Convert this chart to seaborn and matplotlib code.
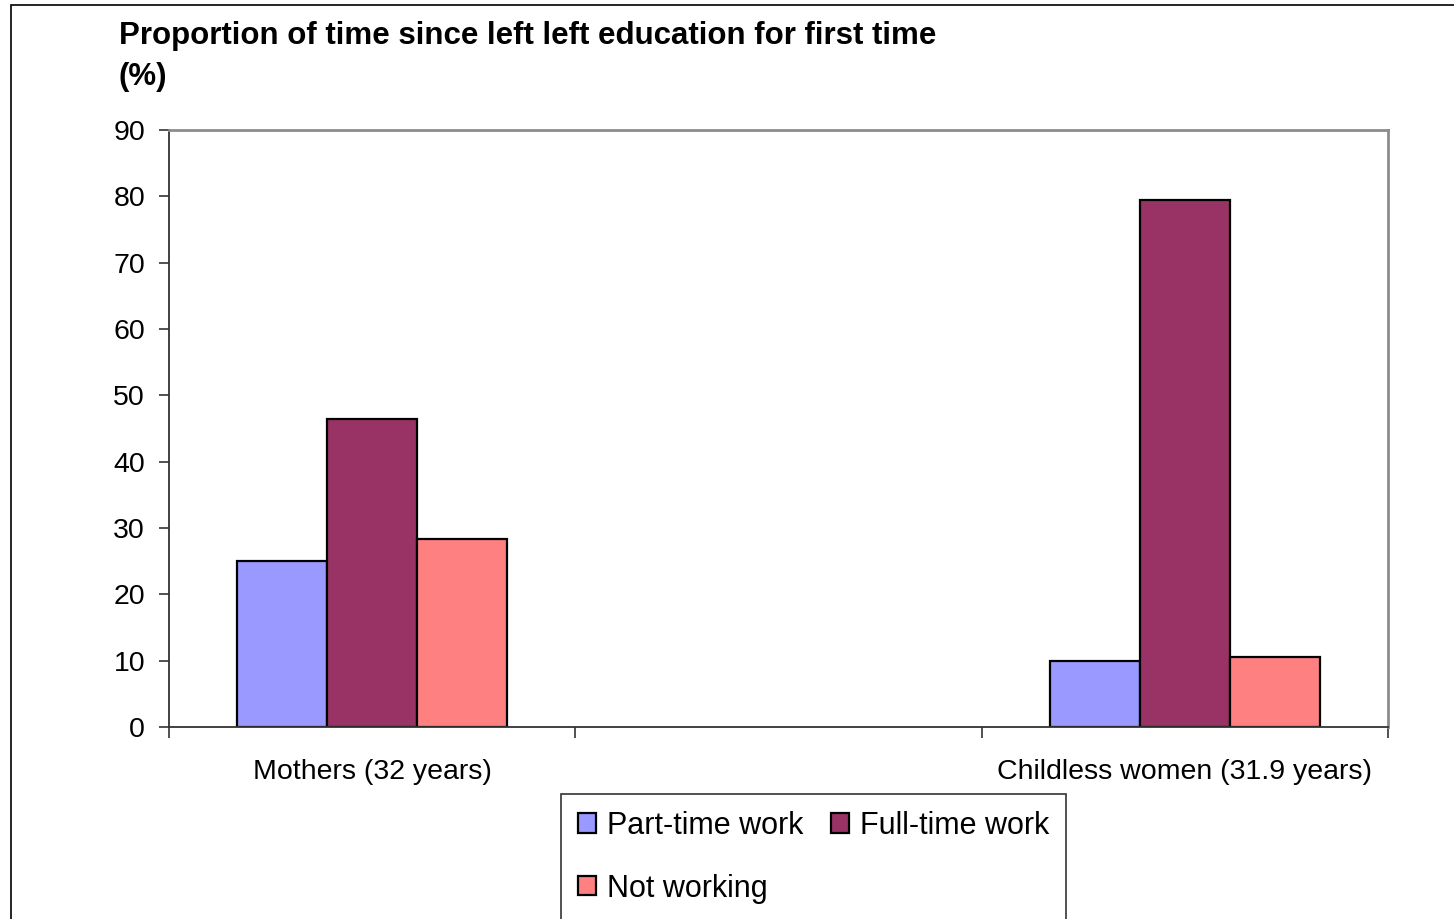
import matplotlib
matplotlib.use("Agg")
import matplotlib.pyplot as plt
import seaborn as sns
import pandas as pd
from matplotlib.patches import Rectangle
from matplotlib.ticker import FixedLocator

# Data
groups = ["Mothers (32 years)", "Childless women (31.9 years)"]
categories = ["Mothers (32 years)", "", "Childless women (31.9 years)"]
statuses = ["Part-time work", "Full-time work", "Not working"]
part_time = [25.1, 9.9]
full_time = [46.4, 79.4]
not_working = [28.3, 10.5]
colors = ["#9999FF", "#993366", "#FF8080"]
y_ticks = [0, 10, 20, 30, 40, 50, 60, 70, 80, 90]

rows = []
for status, vals in zip(statuses, [part_time, full_time, not_working]):
    for g, v in zip(groups, vals):
        rows.append({"group": g, "status": status, "value": v})
df = pd.DataFrame(rows)

sns.set_style("white")
plt.rcParams["font.family"] = ["Liberation Sans", "DejaVu Sans"]
plt.rcParams["text.color"] = "black"
plt.rcParams["xtick.color"] = "black"
plt.rcParams["ytick.color"] = "black"

W, H = 1454, 919
fig = plt.figure(figsize=(W / 100, H / 100), dpi=100)
ax = fig.add_axes([169 / W, 1 - 727 / H, (1388 - 169) / W, (727 - 130) / H])

sns.barplot(data=df, x="group", y="value", hue="status", order=categories,
            hue_order=statuses, palette=colors, width=0.665, edgecolor="black",
            linewidth=1.6, saturation=1, ax=ax, legend=True)

ax.set_xlim(-0.5, 2.5)
ax.set_ylim(0, 90)
ax.yaxis.set_major_locator(FixedLocator(y_ticks))
ax.set_xlabel("")
ax.set_ylabel("")

# Category labels without major ticks; tick marks at category boundaries
ax.set_xticks([0, 1, 2])
ax.set_xticklabels(categories, fontsize=20.5)
ax.tick_params(axis="x", which="major", length=0, pad=23)
ax.xaxis.set_minor_locator(FixedLocator([-0.5, 0.5, 1.5, 2.5]))
ax.tick_params(axis="x", which="minor", bottom=True, length=8, width=1.2,
               color="#333333", direction="out")
ax.tick_params(axis="y", which="major", left=True, length=7.2, width=1.2,
               color="#333333", direction="out", labelsize=20.5, pad=10)

for side in ["left", "bottom"]:
    ax.spines[side].set_color("#333333")
    ax.spines[side].set_linewidth(1.3)
for side in ["top", "right"]:
    ax.spines[side].set_color("#8c8c8c")
    ax.spines[side].set_linewidth(2)

handles, labels = ax.get_legend_handles_labels()
ax.get_legend().remove()
order = [0, 2, 1]  # row-wise: Part-time, Full-time / Not working
leg = fig.legend([handles[i] for i in order], [labels[i] for i in order],
                 loc="upper left", bbox_to_anchor=(561 / W, 1 - 794 / H),
                 ncol=2, fontsize=22, frameon=True, fancybox=False,
                 edgecolor="black", handlelength=0.6, handleheight=0.6,
                 handletextpad=0.35, columnspacing=0.9, labelspacing=1.07,
                 borderpad=0.55, borderaxespad=0)
leg.get_frame().set_linewidth(1.2)

fig.text(119 / W, 1 - 36 / H,
         "Proportion of time since left left education for first time",
         fontsize=22.5, fontweight="bold", ha="left", va="center")
fig.text(119 / W, 1 - 77 / H, "(%)", fontsize=22.5, fontweight="bold",
         ha="left", va="center")

# Outer chart border
fig.patches.append(Rectangle((11 / W, -0.05), 1.1, 1.05 - 5 / H,
                             transform=fig.transFigure, fill=False,
                             edgecolor="black", linewidth=1.2))

fig.savefig("out.png", dpi=100)
